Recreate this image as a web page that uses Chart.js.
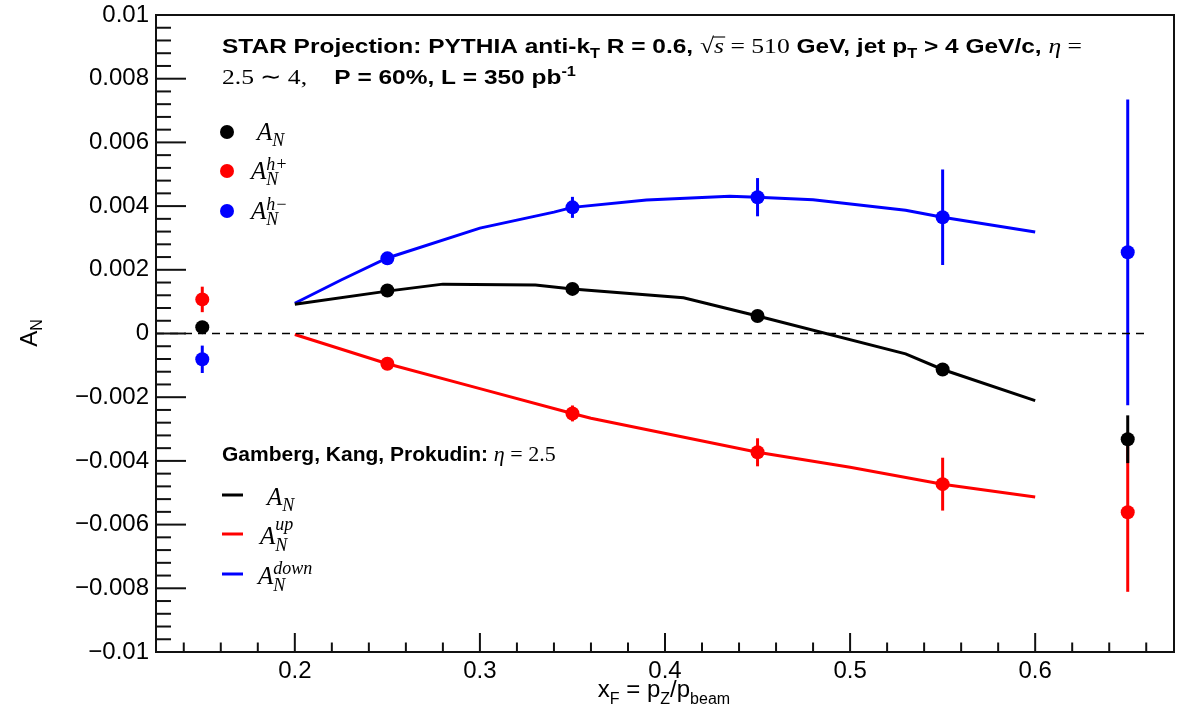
<!DOCTYPE html>
<html>
<head>
<meta charset="utf-8">
<script src="https://cdn.jsdelivr.net/npm/chart.js@4.4.1/dist/chart.umd.min.js"></script>
<style>
  html, body { margin: 0; padding: 0; background: #fff; }
  #wrap { width: 1189px; height: 717px; }
</style>
</head>
<body>
<div id="wrap"><canvas id="chartAN" width="1189" height="717"></canvas></div>
<script>
// PYTHIA projection points (x_F bins)
const xBins = [0.15, 0.25, 0.35, 0.45, 0.55, 0.65];
const anVals = [0.0002, 0.00135, 0.0014, 0.00055, -0.00113, -0.00332];
const anErrs = [0.0001, 0.0001, 0.0001, 0.00012, 0.0002, 0.00075];
const hpVals = [0.00107, -0.00095, -0.00251, -0.00373, -0.00473, -0.00561];
const hpErrs = [0.0004, 0.0001, 0.00025, 0.00044, 0.00083, 0.0025];
const hmVals = [-0.00081, 0.00236, 0.00396, 0.00428, 0.00365, 0.00255];
const hmErrs = [0.00043, 0.0002, 0.00033, 0.0006, 0.0015, 0.0048];

// Gamberg, Kang, Prokudin curves
const anTheoryX = [0.2, 0.25, 0.28, 0.33, 0.35, 0.41, 0.45, 0.53, 0.55, 0.6];
const anTheoryY = [0.00092, 0.00133, 0.00155, 0.00152, 0.0014, 0.00112, 0.00055, -0.00064, -0.00113, -0.00211];
const upTheoryX = [0.2, 0.25, 0.3, 0.35, 0.36, 0.45, 0.5, 0.55, 0.6];
const upTheoryY = [-0.00003, -0.00095, -0.00173, -0.00251, -0.00266, -0.00373, -0.0042, -0.00473, -0.00513];
const downTheoryX = [0.2, 0.225, 0.25, 0.3, 0.34, 0.35, 0.39, 0.435, 0.45, 0.48, 0.53, 0.55, 0.6];
const downTheoryY = [0.00095, 0.00168, 0.00237, 0.00331, 0.00381, 0.00396, 0.00419, 0.00431, 0.00428, 0.0042, 0.00387, 0.00365, 0.00319];

const zeroLineX = [0.125, 0.661];
const xTicks = [0.2, 0.3, 0.4, 0.5, 0.6];
const yTicks = [-0.01, -0.008, -0.006, -0.004, -0.002, 0, 0.002, 0.004, 0.006, 0.008, 0.01];

const SANS = '"Liberation Sans", Arial, Helvetica, sans-serif';
const SERIF = '"Liberation Serif", "Times New Roman", serif';

function pts(xs, ys) { return xs.map((x, i) => ({ x: x, y: ys[i] })); }

function fmtY(v) {
  if (Math.abs(v) < 1e-12) return '0';
  let s = Math.abs(v).toFixed(3).replace(/0+$/, '');
  return (v < 0 ? '\u2212' : '') + s;
}

// draws a row of text pieces: [text, font, dy, noAdvance]
function runs(ctx, x, y, list) {
  let cx = x;
  list.forEach(r => {
    ctx.font = r[1];
    ctx.fillText(r[0], cx, y + (r[2] || 0));
    if (!r[3]) cx += ctx.measureText(r[0]).width;
  });
  return cx;
}
function runsWidth(ctx, list) {
  let w = 0;
  list.forEach(r => { ctx.font = r[1]; if (!r[3]) w += ctx.measureText(r[0]).width; });
  return w;
}

// error bars drawn under each dataset's markers
const errorBars = {
  id: 'errorBars',
  beforeDatasetDraw(chart, args) {
    const ds = chart.data.datasets[args.index];
    if (!ds.errors) return;
    const { ctx, scales: { x, y } } = chart;
    ctx.save();
    ctx.strokeStyle = ds.backgroundColor;
    ctx.lineWidth = 3;
    ds.data.forEach((p, i) => {
      const px = x.getPixelForValue(p.x);
      ctx.beginPath();
      ctx.moveTo(px, y.getPixelForValue(p.y + ds.errors[i]));
      ctx.lineTo(px, y.getPixelForValue(p.y - ds.errors[i]));
      ctx.stroke();
    });
    ctx.restore();
  }
};

// ROOT style frame, inner tick marks, labels and legends
const decor = {
  id: 'decor',
  afterDraw(chart) {
    const { ctx, chartArea: a, scales: { x, y } } = chart;
    ctx.save();
    ctx.strokeStyle = '#111';
    ctx.lineWidth = 2;
    // frame top/right
    ctx.beginPath();
    ctx.moveTo(a.left, a.top); ctx.lineTo(a.right, a.top); ctx.lineTo(a.right, a.bottom);
    ctx.stroke();
    // y ticks
    for (let k = 0; k <= 50; k++) {
      const v = -0.01 + k * 0.0004;
      const py = y.getPixelForValue(v);
      const len = k % 5 === 0 ? 30 : 15;
      ctx.beginPath(); ctx.moveTo(a.left, py); ctx.lineTo(a.left + len, py); ctx.stroke();
    }
    // x ticks
    for (let k = 7; k <= 33; k++) {
      const px = x.getPixelForValue(k * 0.02);
      const len = k % 5 === 0 ? 19 : 9.5;
      ctx.beginPath(); ctx.moveTo(px, a.bottom); ctx.lineTo(px, a.bottom - len); ctx.stroke();
    }

    ctx.fillStyle = '#000';
    ctx.textBaseline = 'alphabetic';
    ctx.textAlign = 'left';

    // axis titles
    const xt = [['x', '24px ' + SANS], ['F', '16px ' + SANS, 7], [' = p', '24px ' + SANS],
                ['Z', '16px ' + SANS, 7], ['/p', '24px ' + SANS], ['beam', '16px ' + SANS, 7]];
    runs(ctx, 664 - runsWidth(ctx, xt) / 2, 697, xt);
    ctx.save();
    ctx.translate(37, 333);
    ctx.rotate(-Math.PI / 2);
    const yt = [['A', '24px ' + SANS], ['N', '16px ' + SANS, 5]];
    runs(ctx, -runsWidth(ctx, yt) / 2, 0, yt);
    ctx.restore();

    // header
    const B = 'bold 21px ' + SANS, BS = 'bold 14px ' + SANS;
    const S = '22px ' + SERIF, SI = 'italic 22px ' + SERIF;
    const line1 = [['STAR Projection: PYTHIA anti-k', B], ['T', BS, 5], [' R = 0.6, ', B],
      ['\u221A', S], ['s', SI], [' = 510', S], [' GeV, jet p', B], ['T', BS, 5],
      [' > 4 GeV/c, ', B], ['\u03B7', SI], [' =', S]];
    const line2 = [['2.5 \u223C 4,', S], ['    P = 60%, L = 350 pb', B], ['-1', BS, -8]];
    const sx = 860 / runsWidth(ctx, line1);
    ctx.save();
    ctx.translate(222, 0);
    ctx.scale(sx, 1);
    runs(ctx, 0, 53, line1);
    runs(ctx, 0, 84, line2);
    // overbar of the square root
    ctx.font = B;
    let ox = ctx.measureText('STAR Projection: PYTHIA anti-k').width;
    ctx.font = BS; ox += ctx.measureText('T').width;
    ctx.font = B; ox += ctx.measureText(' R = 0.6, ').width;
    ctx.font = S; ox += ctx.measureText('\u221A').width;
    ctx.font = SI;
    ctx.lineWidth = 1.2;
    ctx.beginPath(); ctx.moveTo(ox - 1, 37); ctx.lineTo(ox + ctx.measureText('s').width + 1, 37); ctx.stroke();
    ctx.restore();

    // legend: projection points
    const M = 'italic 25px ' + SERIF, MS = 'italic 18px ' + SERIF;
    const legPts = [
      ['#000', 132, [['A', M], ['N', MS, 6]], 257],
      ['#ff0000', 171, [['A', M], ['h+', MS, -9, true], ['N', MS, 6]], 251],
      ['#0000ff', 211, [['A', M], ['h\u2212', MS, -9, true], ['N', MS, 6]], 251]
    ];
    legPts.forEach(l => {
      ctx.fillStyle = l[0];
      ctx.beginPath(); ctx.arc(227, l[1], 7, 0, Math.PI * 2); ctx.fill();
      ctx.fillStyle = '#000';
      runs(ctx, l[3], l[1] + 8, l[2]);
    });

    // legend: theory
    runs(ctx, 222, 461, [['Gamberg, Kang, Prokudin: ', 'bold 21px ' + SANS], ['\u03B7', SI], [' = 2.5', S]]);
    const legTh = [
      ['#000', 495, [['A', M], ['N', MS, 6]], 267],
      ['#ff0000', 534, [['A', M], ['up', MS, -14, true], ['N', MS, 7]], 260],
      ['#0000ff', 574, [['A', M], ['down', MS, -10, true], ['N', MS, 7]], 258]
    ];
    legTh.forEach(l => {
      ctx.strokeStyle = l[0];
      ctx.lineWidth = 3;
      ctx.beginPath(); ctx.moveTo(222, l[1]); ctx.lineTo(243, l[1]); ctx.stroke();
      ctx.fillStyle = '#000';
      runs(ctx, l[3], l[1] + 10, l[2]);
    });
    ctx.restore();
  }
};

function theory(xs, ys, color) {
  return { type: 'line', data: pts(xs, ys), borderColor: color, borderWidth: 3,
           pointRadius: 0, showLine: true, fill: false, tension: 0 };
}
function points(vals, errs, color) {
  return { type: 'scatter', data: pts(xBins, vals), errors: errs, backgroundColor: color,
           borderColor: color, pointRadius: 7, pointBorderWidth: 0, showLine: false };
}

new Chart(document.getElementById('chartAN').getContext('2d'), {
  data: {
    datasets: [
      { type: 'line', data: pts(zeroLineX, [0, 0]), borderColor: '#000', borderWidth: 1.5,
        borderDash: [8, 6], pointRadius: 0, fill: false },
      theory(anTheoryX, anTheoryY, '#000'),
      theory(upTheoryX, upTheoryY, '#ff0000'),
      theory(downTheoryX, downTheoryY, '#0000ff'),
      points(anVals, anErrs, '#000'),
      points(hpVals, hpErrs, '#ff0000'),
      points(hmVals, hmErrs, '#0000ff')
    ]
  },
  options: {
    responsive: false,
    animation: false,
    devicePixelRatio: 1,
    layout: { padding: { top: 15, right: 15, left: 0, bottom: 0 } },
    plugins: { legend: { display: false }, tooltip: { enabled: false } },
    scales: {
      x: {
        type: 'linear', min: 0.125, max: 0.675,
        grid: { display: false, drawTicks: false },
        border: { display: true, color: '#111', width: 2 },
        afterBuildTicks: s => { s.ticks = xTicks.map(v => ({ value: v })); },
        afterFit: s => { s.height = 65; s.paddingLeft = 0; s.paddingRight = 0; },
        ticks: { color: '#000', padding: 5, font: { family: SANS, size: 24 },
                 maxRotation: 0, callback: v => String(Math.round(v * 10) / 10) }
      },
      y: {
        type: 'linear', min: -0.01, max: 0.01,
        grid: { display: false, drawTicks: false },
        border: { display: true, color: '#111', width: 2 },
        afterBuildTicks: s => { s.ticks = yTicks.map(v => ({ value: v })); },
        afterFit: s => { s.width = 156; s.paddingTop = 0; s.paddingBottom = 0; },
        ticks: { color: '#000', padding: 7, font: { family: SANS, size: 24 }, callback: v => fmtY(v) }
      }
    }
  },
  plugins: [errorBars, decor]
});
</script>
</body>
</html>
